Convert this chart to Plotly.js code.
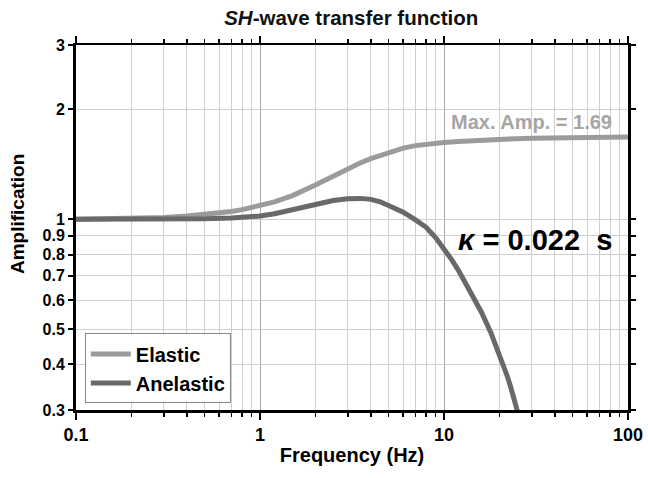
<!DOCTYPE html>
<html>
<head>
<meta charset="utf-8">
<script src="https://cdn.plot.ly/plotly-3.0.1.min.js"></script>
<style>html,body{margin:0;padding:0;background:#fff;}#chart{width:648px;height:478px;}</style>
</head>
<body>
<div id="chart"></div>
<script>
// Frequencies (Hz) and amplification values
const freqElastic = [0.1, 0.15, 0.2, 0.3, 0.4, 0.5, 0.6, 0.7, 0.8, 0.9, 1.0, 1.2, 1.5, 1.8, 2, 2.5, 3, 3.5, 4, 5, 6, 7, 8, 10, 12, 15, 20, 30, 50, 100];
const ampElastic  = [1.0, 1.001, 1.004, 1.01, 1.02, 1.03, 1.04, 1.05, 1.062, 1.075, 1.088, 1.115, 1.16, 1.205, 1.24, 1.31, 1.375, 1.425, 1.465, 1.525, 1.565, 1.59, 1.605, 1.622, 1.633, 1.644, 1.654, 1.665, 1.672, 1.678];

const freqAnelastic = [0.1, 0.2, 0.3, 0.5, 0.7, 1, 1.2, 1.5, 2, 2.5, 3, 3.5, 4, 4.5, 5, 6, 7, 8, 9, 10, 11, 12, 14, 16, 18, 20, 22, 23, 24, 25, 26, 27];
const ampAnelastic  = [1.0, 1.0, 1.0, 1.003, 1.008, 1.02, 1.035, 1.06, 1.10, 1.125, 1.137, 1.14, 1.133, 1.115, 1.09, 1.045, 0.995, 0.95, 0.89, 0.83, 0.775, 0.723, 0.63, 0.555, 0.488, 0.428, 0.373, 0.348, 0.323, 0.30, 0.28, 0.26];

const xMajorTicks = [0.1, 1, 10, 100];
const xMajorLabels = ['0.1', '1', '10', '100'];
const xMinorTicks = [0.2,0.3,0.4,0.5,0.6,0.7,0.8,0.9, 2,3,4,5,6,7,8,9, 20,30,40,50,60,70,80,90];
const yTicks = [0.3, 0.4, 0.5, 0.6, 0.7, 0.8, 0.9, 1, 2, 3];
const yLabels = ['0.3', '0.4', '0.5', '0.6', '0.7', '0.8', '0.9', '1', '2', '3'];

const seriesNames = ['Elastic', 'Anelastic'];
const maxAmpLabel = 'Max. Amp. = 1.69';
const kappaLabel = '<i>κ</i> = 0.022  s';

const FONT = 'Liberation Sans, Arial, Helvetica, sans-serif';

const traces = [
  {x: freqElastic, y: ampElastic, name: seriesNames[0], mode: 'lines', line: {color: 'rgb(155,155,155)', width: 5}},
  {x: freqAnelastic, y: ampAnelastic, name: seriesNames[1], mode: 'lines', line: {color: 'rgb(105,105,105)', width: 5}}
];

const layout = {
  width: 648, height: 478,
  margin: {l: 76, r: 20, t: 45, b: 68},
  paper_bgcolor: '#fff', plot_bgcolor: '#fff',
  font: {family: FONT, color: '#000', size: 18},
  title: {text: '<b><i>SH</i>-wave transfer function</b>', x: 0.542, xanchor: 'center', y: 0.963, yanchor: 'middle', font: {size: 20.5, family: FONT, color: '#111'}},
  showlegend: true,
  legend: {x: 0.016, y: 0.018, xanchor: 'left', yanchor: 'bottom', bgcolor: '#fff', bordercolor: '#888', borderwidth: 1,
           font: {size: 20, family: FONT, weight: 'bold'}, tracegroupgap: 0, itemwidth: 40},
  xaxis: {
    type: 'log', range: [-1, 2], tickvals: xMajorTicks, ticktext: xMajorLabels,
    ticks: 'outside', ticklen: 7, tickwidth: 2, tickcolor: '#000',
    showline: true, linecolor: '#000', linewidth: 2.5, mirror: 'ticks',
    showgrid: true, gridcolor: '#a8a8a8', gridwidth: 1,
    minor: {tickvals: xMinorTicks, ticks: 'outside', ticklen: 4, tickwidth: 1.5, tickcolor: '#000', showgrid: true, gridcolor: '#cfcfcf', gridwidth: 1},
    tickfont: {size: 18, family: FONT, weight: 'bold'},
    title: {text: '<b>Frequency (Hz)</b>', font: {size: 20, family: FONT}, standoff: 4},
    zeroline: false
  },
  yaxis: {
    type: 'log', range: [Math.log10(0.3), Math.log10(3)], tickvals: yTicks, ticktext: yLabels,
    ticks: 'outside', ticklen: 5, tickwidth: 2, tickcolor: '#000',
    showline: true, linecolor: '#000', linewidth: 3, mirror: 'ticks',
    showgrid: true, gridcolor: '#cfcfcf', gridwidth: 1,
    tickfont: {size: 16, family: FONT, weight: 'bold'},
    zeroline: false
  },
  annotations: [
    {xref: 'paper', yref: 'paper', x: -0.105, y: 0.537, xanchor: 'center', yanchor: 'middle', textangle: -90,
     text: '<b>Amplification</b>', showarrow: false, font: {size: 19, family: FONT, color: '#000'}},
    {xref: 'paper', yref: 'paper', x: 0.975, y: 0.788, xanchor: 'right', yanchor: 'middle',
     text: '<b>' + maxAmpLabel + '</b>', showarrow: false, font: {size: 20, family: FONT, color: 'rgb(165,165,165)'}},
    {xref: 'paper', yref: 'paper', x: 0.975, y: 0.466, xanchor: 'right', yanchor: 'middle',
     text: '<b>' + kappaLabel + '</b>', showarrow: false, font: {size: 29, family: FONT, color: '#000'}}
  ]
};

Plotly.newPlot('chart', traces, layout, {displayModeBar: false, staticPlot: true});
</script>
</body>
</html>
